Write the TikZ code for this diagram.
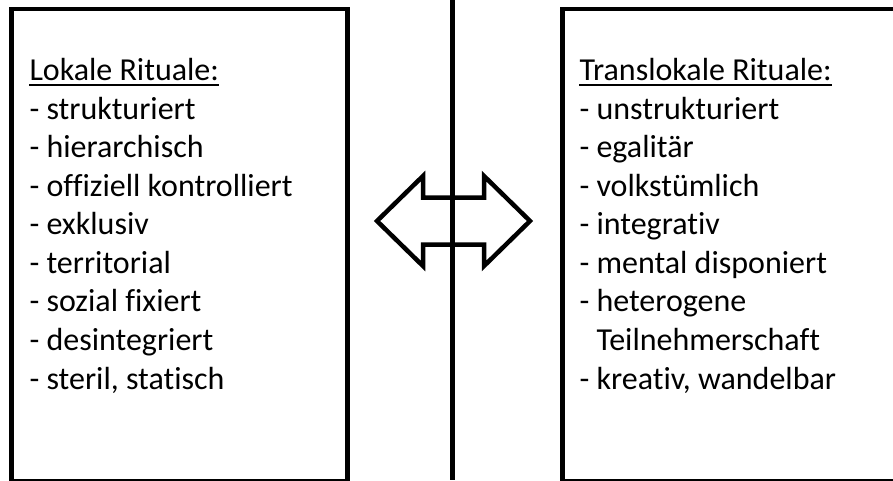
\documentclass[tikz,border=0pt]{standalone}
\usepackage{fontspec}
\setmainfont[Ligatures=NoCommon]{Carlito}
\usepackage{tikz}
\usetikzlibrary{positioning, calc}
\tikzstyle{frame} = [line width=4.5pt, line join=miter]

\begin{document}
\begin{tikzpicture}[x=1pt, y=-1pt,
    panel/.style={rectangle, draw=black, line width=4.5pt, inner sep=0pt, anchor=north west, minimum height=472.5pt},
    item/.style={anchor=base west, inner sep=0pt, font=\fontsize{32}{38.5}\selectfont}]
    \useasboundingbox (0,0) rectangle (893,480);
    \clip (0,0) rectangle (893,480);

    % Panels
    \node[panel, minimum width=336pt] (lokalbox) at (9,6.5) {};
    \node[panel, minimum width=360pt] (translokalbox) at (560,6.5) {};

    % Lists
    \foreach \txt [count=\i from 0] in {Lokale Rituale:, - strukturiert, - hierarchisch,
        - offiziell kontrolliert, - exklusiv, - territorial, - sozial fixiert,
        - desintegriert, {- steril, statisch}}
        \node[item] (lokal-\i) at (29.3,80.7+38.54*\i) {\txt};
    \foreach \txt [count=\i from 0] in {Translokale Rituale:, - unstrukturiert, - egalitär,
        - volkstümlich, - integrativ, - mental disponiert, - heterogene,
        \phantom{- }Teilnehmerschaft, {- kreativ, wandelbar}}
        \node[item] (translokal-\i) at (579.3,80.7+38.54*\i) {\txt};

    % Underlined headings
    \draw[line width=2pt] ($(lokal-0.base west)+(0,4.5)$) -- ($(lokal-0.base east)+(0,4.5)$);
    \draw[line width=2pt] ($(translokal-0.base west)+(0,4.5)$) -- ($(translokal-0.base east)+(0,4.5)$);

    % Double arrow
    \coordinate (mid) at (453.5,221);
    \draw[frame] ($(mid)+(-76.5,0)$) -- ++(46,-45) -- ++(0,21.5) -- ++(61,0) -- ++(0,-21.5)
        -- ($(mid)+(76.5,0)$) -- ++(-46,45) -- ++(0,-21.5) -- ++(-61,0) -- ++(0,21.5) -- cycle;

    % Divider
    \coordinate (divtop) at (452.5,0);
    \coordinate (divbottom) at (452.5,480);
    \draw[frame] (divtop) -- (divbottom);
\end{tikzpicture}
\end{document}
